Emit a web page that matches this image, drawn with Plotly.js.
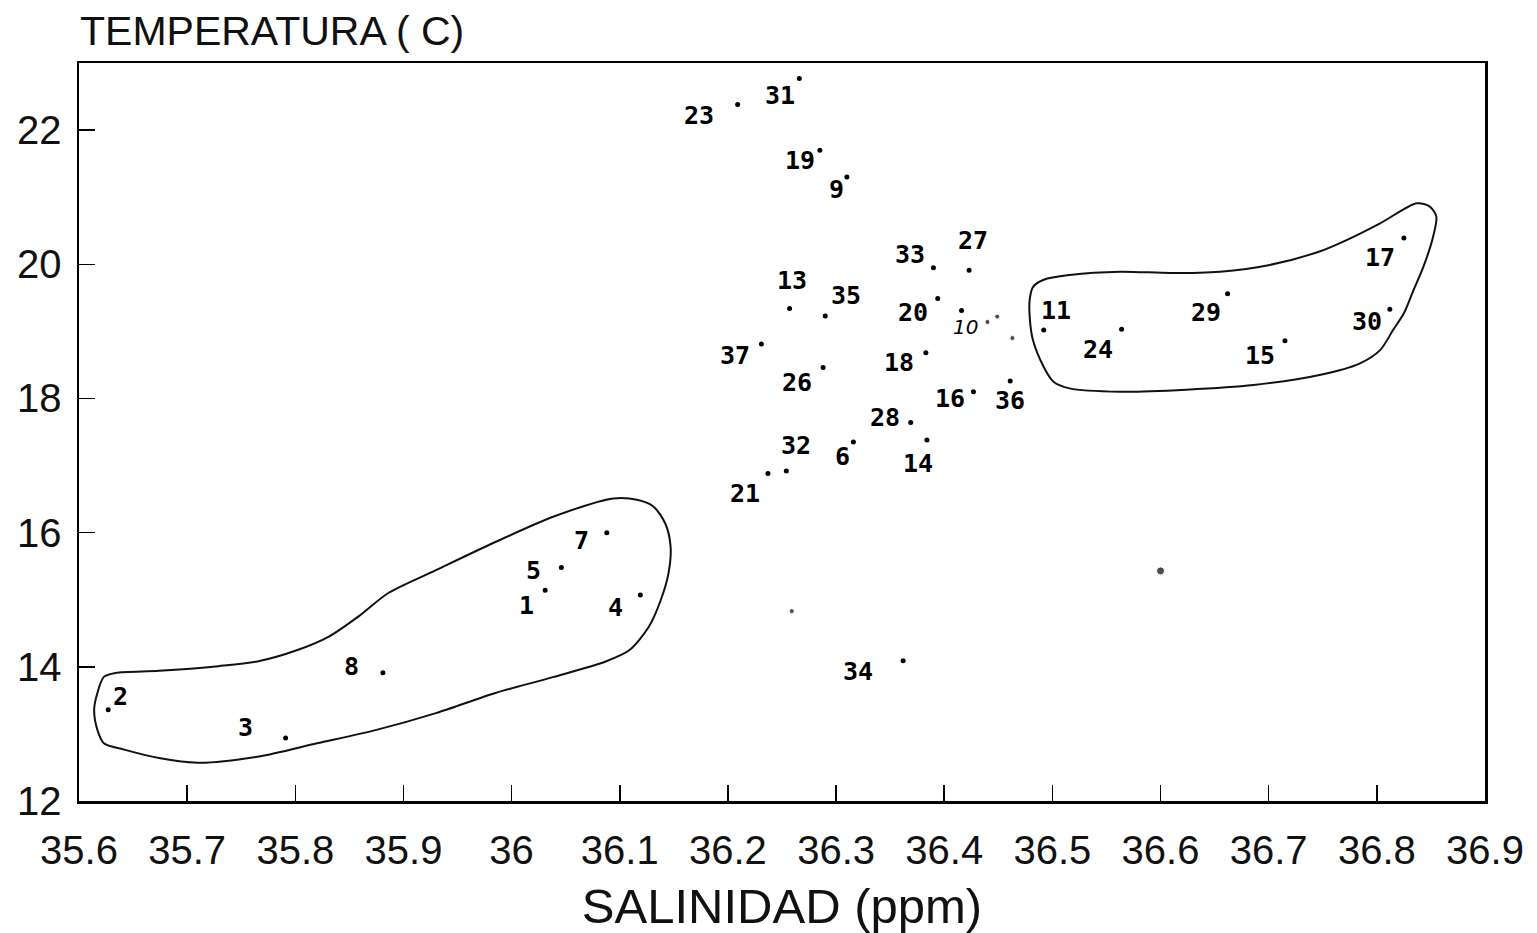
<!DOCTYPE html>
<html>
<head>
<meta charset="utf-8">
<script src="https://cdn.plot.ly/plotly-3.0.1.min.js"></script>
<style>
  html, body { margin: 0; padding: 0; background: #fff; }
  #chart { width: 1537px; height: 933px; }
</style>
</head>
<body>
<div id="chart"></div>
<script>
// ---- Data ----
const stationIds  = [1, 2, 3, 4, 5, 6, 7, 8, 9, 10, 11, 13, 14, 15, 16, 17, 18, 19, 20, 21, 23, 24, 26, 27, 28, 29, 30, 31, 32, 33, 34, 35, 36, 37];
const salinity    = [36.031, 35.627, 35.791, 36.119, 36.046, 36.316, 36.088, 35.881, 36.310, 36.416, 36.492, 36.257, 36.384, 36.715, 36.427, 36.825, 36.383, 36.285, 36.394, 36.237, 36.209, 36.564, 36.288, 36.423, 36.369, 36.662, 36.812, 36.266, 36.254, 36.390, 36.362, 36.290, 36.461, 36.231];
const temperature = [15.14, 13.36, 12.94, 15.07, 15.48, 17.35, 16.00, 13.91, 21.30, 19.31, 19.02, 19.34, 17.38, 18.86, 18.10, 20.39, 18.68, 21.70, 19.49, 16.88, 22.38, 19.03, 18.46, 19.91, 17.64, 19.56, 19.33, 22.77, 16.92, 19.95, 14.09, 19.23, 18.26, 18.81];

// unlabeled dots
const extraSalinity    = [36.440, 36.449, 36.463, 36.259, 36.600];
const extraTemperature = [19.14, 19.22, 18.90, 14.83, 15.43];

// hand-drawn groupings (outline)
const groupWarmSal  = [36.479, 36.482, 36.492, 36.516, 36.563, 36.609, 36.655, 36.701, 36.747, 36.772, 36.803, 36.837, 36.849, 36.855, 36.852, 36.843, 36.834, 36.825, 36.815, 36.803, 36.784, 36.747, 36.686, 36.624, 36.563, 36.516, 36.501, 36.492, 36.482, 36.479];
const groupWarmTemp = [19.47, 19.66, 19.77, 19.84, 19.89, 19.87, 19.89, 19.99, 20.19, 20.36, 20.61, 20.91, 20.86, 20.71, 20.41, 19.96, 19.62, 19.27, 19.02, 18.72, 18.52, 18.35, 18.20, 18.13, 18.10, 18.15, 18.25, 18.47, 18.87, 19.22];
const groupColdSal  = [35.614, 35.617, 35.623, 35.634, 35.674, 35.729, 35.765, 35.802, 35.831, 35.860, 35.886, 35.930, 35.985, 36.039, 36.094, 36.116, 36.131, 36.142, 36.147, 36.145, 36.138, 36.127, 36.109, 36.087, 36.039, 35.985, 35.930, 35.875, 35.820, 35.765, 35.710, 35.674, 35.641, 35.623, 35.617];
const groupColdTemp = [13.36, 13.61, 13.85, 13.91, 13.94, 14.01, 14.08, 14.25, 14.45, 14.77, 15.10, 15.44, 15.86, 16.24, 16.51, 16.49, 16.39, 16.14, 15.79, 15.39, 15.00, 14.60, 14.25, 14.08, 13.85, 13.61, 13.31, 13.06, 12.86, 12.66, 12.57, 12.64, 12.77, 12.86, 13.06];

const xTickVals = [35.6, 35.7, 35.8, 35.9, 36.0, 36.1, 36.2, 36.3, 36.4, 36.5, 36.6, 36.7, 36.8, 36.9];
const xTickText = ["35.6", "35.7", "35.8", "35.9", "36", "36.1", "36.2", "36.3", "36.4", "36.5", "36.6", "36.7", "36.8", "36.9"];
const yTickVals = [12, 14, 16, 18, 20, 22];
const yTickText = ["12", "14", "16", "18", "20", "22"];

// ---- Label placement (pixel offsets from each dot) ----
const labelDx = [-19, 12, -40, -25, -28, -11, -25, -31, -10, 4, 12, 2, -9, -25, -23, -24, -27, -20, -25, -23, -39, -24, -26, 4, -26, -22, -23, -19, 10, -23, -45, 21, 0, -26];
const labelDy = [15, -13, -10, 12, 3, 14, 8, -6, 12, 16, -20, -28, 23, 15, 7, 19, 10, 10, 14, 20, 11, 20, 15, -30, -5, 19, 12, 17, -25, -13, 11, -20, 19, 11];

const closeLoop = a => a.concat([a[0]]);

const outlineStyle = { color: '#111', width: 2, shape: 'spline', smoothing: 0.8 };

const traces = [
  { x: closeLoop(groupColdSal), y: closeLoop(groupColdTemp), mode: 'lines', line: outlineStyle, hoverinfo: 'skip', showlegend: false },
  { x: closeLoop(groupWarmSal), y: closeLoop(groupWarmTemp), mode: 'lines', line: outlineStyle, hoverinfo: 'skip', showlegend: false },
  { x: salinity, y: temperature, mode: 'markers', marker: { color: '#000', size: 5 }, text: stationIds.map(String), showlegend: false },
  { x: extraSalinity, y: extraTemperature, mode: 'markers', marker: { color: '#000', size: [5, 5, 5, 5, 8] }, showlegend: false }
];

const annotations = stationIds.map((id, i) => ({
  x: salinity[i], y: temperature[i], xref: 'x', yref: 'y',
  text: id === 10 ? '<i>10</i>' : String(id),
  showarrow: false,
  xshift: labelDx[i], yshift: -labelDy[i],
  font: id === 10
    ? { family: 'DejaVu Sans, sans-serif', size: 20, color: '#000' }
    : { family: 'DejaVu Sans Mono, monospace', size: 25, color: '#000', weight: 'bold' }
}));

const axisFont = { family: 'Liberation Sans, Arial, sans-serif', size: 40, color: '#111' };

const layout = {
  width: 1537, height: 933,
  paper_bgcolor: '#fff', plot_bgcolor: '#fff',
  margin: { l: 79, r: 52, t: 63, b: 132 },
  title: {
    text: 'TEMPERATURA ( C)',
    font: { family: 'Liberation Sans, Arial, sans-serif', size: 41, color: '#111' },
    x: 80 / 1537, xanchor: 'left', xref: 'container',
    y: 1 - 31 / 933, yanchor: 'middle', yref: 'container'
  },
  xaxis: {
    range: [35.6, 36.9], tickvals: xTickVals, ticktext: xTickText,
    showgrid: false, zeroline: false, showline: true, mirror: true,
    linecolor: '#000', linewidth: 2.5,
    ticks: 'inside', ticklen: 16, tickwidth: 1.5, tickcolor: '#000',
    tickfont: axisFont, ticklabelstandoff: 12,
    title: { text: 'SALINIDAD (ppm)', font: { family: 'Liberation Sans, Arial, sans-serif', size: 49, color: '#111' }, standoff: 28 },
    automargin: false
  },
  yaxis: {
    range: [12, 23], tickvals: yTickVals, ticktext: yTickText,
    showgrid: false, zeroline: false, showline: true, mirror: true,
    linecolor: '#000', linewidth: 2.5,
    ticks: 'inside', ticklen: 16, tickwidth: 1.5, tickcolor: '#000',
    tickfont: axisFont, ticklabelstandoff: 7,
    automargin: false
  },
  annotations: annotations,
  showlegend: false
};

Plotly.newPlot('chart', traces, layout, { staticPlot: true, displayModeBar: false });
</script>
</body>
</html>
